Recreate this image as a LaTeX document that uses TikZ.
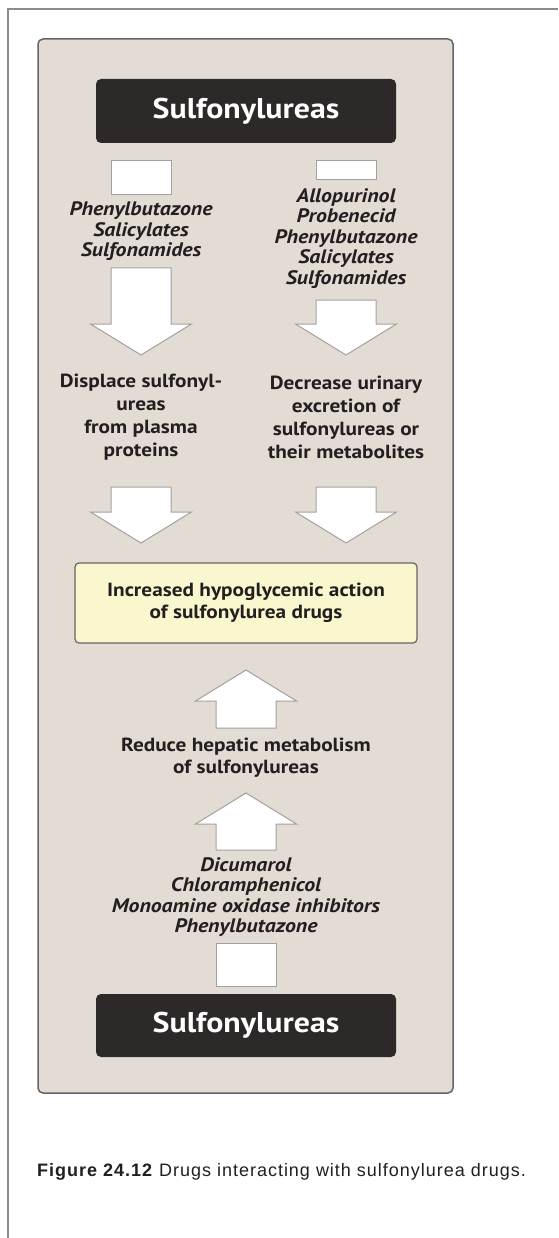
\documentclass[tikz,border=0pt]{standalone}
\usepackage{fontspec}
\setmainfont{PT Sans}[FakeStretch=1.12]
\newfontfamily\capfont{Liberation Sans}[LetterSpace=5.5]
\usetikzlibrary{calc,positioning}

\definecolor{panelfill}{RGB}{227,220,212}
\definecolor{paneledge}{RGB}{105,100,100}
\definecolor{darkbox}{RGB}{45,41,41}
\definecolor{resultfill}{RGB}{250,246,206}
\definecolor{arrowedge}{RGB}{165,160,158}
\definecolor{inktext}{RGB}{35,31,32}
\definecolor{framegray}{RGB}{140,140,140}

\tikzset{
  titlebox/.style={fill=darkbox, rounded corners=5pt, minimum width=300pt, minimum height=64pt,
    text=white, font=\fontsize{28.5}{34}\selectfont\bfseries},
  druglist/.style={align=center, inner sep=0pt, text=inktext, font=\fontsize{19.5}{20.5}\selectfont\bfseries\itshape},
  effect/.style={align=center, inner sep=0pt, text=inktext, font=\fontsize{19}{23}\selectfont\bfseries},
  resultbox/.style={draw=paneledge, line width=1.2pt, fill=resultfill, rounded corners=4pt,
    minimum width=342pt, minimum height=80pt, align=center, text=inktext,
    font=\fontsize{19}{22}\selectfont\bfseries},
  blockarrow/.style={draw=arrowedge, fill=white, line width=1pt},
  stubbox/.style={draw=arrowedge, fill=white, line width=1pt, inner sep=0pt, minimum width=60pt},
}

% wide arrow from shaft end #1 down to tip #2
\newcommand{\blockdown}[2]{%
  \draw[blockarrow] ($(#1)+(-30,0)$) -- ($(#1)+(30,0)$) -- ($(#1 |- #2)+(30,-31)$)
    -- ($(#1 |- #2)+(50.5,-31)$) -- (#2) -- ($(#1 |- #2)+(-50.5,-31)$)
    -- ($(#1 |- #2)+(-30,-31)$) -- cycle;}
% same, pointing up
\newcommand{\blockup}[2]{%
  \draw[blockarrow] ($(#1)+(-30,0)$) -- ($(#1)+(30,0)$) -- ($(#1 |- #2)+(30,31)$)
    -- ($(#1 |- #2)+(50.5,31)$) -- (#2) -- ($(#1 |- #2)+(-50.5,31)$)
    -- ($(#1 |- #2)+(-30,31)$) -- cycle;}

\begin{document}
\begin{tikzpicture}[x=1pt, y=-1pt]

\useasboundingbox (0,0) rectangle (558,1238);
\fill[white] (0,0) rectangle (558,1238);
\draw[framegray, line width=1.5pt] (8,1238) -- (8,9) -- (558,9);

% panel
\draw[fill=panelfill, draw=paneledge, line width=1.5pt, rounded corners=5pt] (38,39) rectangle (453,1093);

\node[titlebox] (topdrug) at (246,111) {Sulfonylureas};
\node[titlebox, minimum height=63pt] (botdrug) at (246,1025.5) {Sulfonylureas};

% stubs under and over the drug boxes
\node[stubbox, minimum height=34pt] (leftstub) at (141,178) {};
\node[stubbox, minimum height=19pt] (rightstub) at (346,170.5) {};
\node[stubbox, minimum height=43pt] (botstub) at (246,964.5) {};

\node[druglist] (leftdrugs) at (141,231.5) {Phenylbutazone\\Salicylates\\Sulfonamides};
\node[druglist] (rightdrugs) at (346,238.5) {Allopurinol\\Probenecid\\Phenylbutazone\\Salicylates\\Sulfonamides};

\node[effect] (displace) at (141,417.5) {Displace sulfonyl-\\ureas\\from plasma\\proteins};
\node[effect] (excrete) at (346,417.5) {Decrease urinary\\excretion of\\sulfonylureas or\\their metabolites};

\node[resultbox] (result) at (246,603) {Increased hypoglycemic action\\of sulfonylurea drugs};

\node[effect, font=\fontsize{19}{22}\selectfont\bfseries] (hepatic) at (246,758) {Reduce hepatic metabolism\\of sulfonylureas};
\node[druglist] (liverdrugs) at (246,897) {Dicumarol\\Chloramphenicol\\Monoamine oxidase inhibitors\\Phenylbutazone};

% arrow ends
\coordinate (la1) at (141,268);
\coordinate (la1tip) at (141,355);
\coordinate (ra1) at (346,300);
\coordinate (ra1tip) at (346,355);
\coordinate (la2) at (141,487);
\coordinate (la2tip) at (141,543);
\coordinate (ra2) at (346,487);
\coordinate (ra2tip) at (346,543);
\coordinate (ua1) at (246,728);
\coordinate (ua1tip) at (246,670);
\coordinate (ua2) at (246,850);
\coordinate (ua2tip) at (246,793);

\blockdown{la1}{la1tip}
\blockdown{ra1}{ra1tip}
\blockdown{la2}{la2tip}
\blockdown{ra2}{ra2tip}
\blockup{ua1}{ua1tip}
\blockup{ua2}{ua2tip}

\node[anchor=west, inner sep=0pt, text=inktext, font=\capfont\fontsize{18}{22}\selectfont] (caption)
  at (37,1172) {\textbf{Figure 24.12} Drugs interacting with sulfonylurea drugs.};

\end{tikzpicture}
\end{document}
